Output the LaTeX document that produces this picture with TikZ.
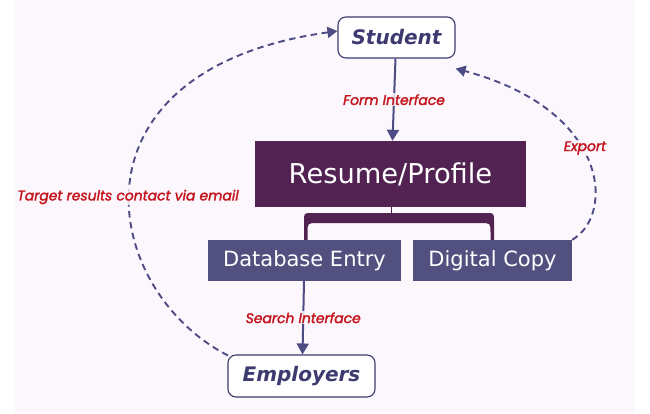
\documentclass[tikz,border=0pt]{standalone}
\usepackage{fontspec}
\setmainfont{DejaVu Sans}
\newfontfamily\lblfont{Poppins}[ItalicFeatures={FakeBold=2}]
\usetikzlibrary{arrows.meta}
\definecolor{pagebg}{HTML}{FCF7FC}
\definecolor{plum}{HTML}{522252}
\definecolor{slate}{HTML}{52507F}
\definecolor{ink}{HTML}{3C3A6E}
\definecolor{edge}{HTML}{4E4C85}
\definecolor{lblred}{HTML}{C4141C}
\tikzset{
  endpoint/.style={draw=ink, line width=1.1pt, fill=white, rounded corners=8pt,
    inner sep=0pt, text=ink, font=\fontsize{20}{23}\selectfont\bfseries\itshape},
  mainbox/.style={fill=plum, inner sep=0pt, text=white,
    font=\fontsize{27.3}{31}\selectfont},
  subbox/.style={fill=slate, inner sep=0pt, text=white,
    font=\fontsize{21}{25}\selectfont},
  flow/.style={draw=edge, line width=2pt, -{Triangle[length=11pt,width=12pt]}},
  loopback/.style={draw=edge, line width=1.9pt, dash pattern=on 6.5pt off 4.5pt,
    -{Triangle[length=10pt,width=11pt]}},
  tag/.style={text=lblred, fill=pagebg, fill opacity=0.85, text opacity=1, inner sep=1pt,
    font=\lblfont\fontsize{13.9}{16}\selectfont\itshape}
}
\begin{document}
\begin{tikzpicture}[x=1pt,y=-1pt]
\useasboundingbox (0,0) rectangle (650,413);
\fill[white] (0,0) rectangle (650,413);
\fill[pagebg] (15,0) rectangle (635,413);

% bracket joining the profile to its two outputs
\fill[plum] (304,250) -- (304,221) .. controls (304,213) .. (312,213)
  -- (486,213) .. controls (494,213) .. (494,221) -- (494,250)
  -- (490.5,250) -- (490.5,233) .. controls (490.5,223) .. (480.5,223)
  -- (317.5,223) .. controls (307.5,223) .. (307.5,233) -- (307.5,250) -- cycle;
\draw[plum, line width=1pt] (391,206) -- (391,215);

\node[endpoint, minimum width=117pt, minimum height=41pt] (student) at (396.5,37.5) {Student};
\node[mainbox, minimum width=271pt, minimum height=66pt] (profile) at (390.5,174) {\raisebox{-2pt}{Resume/Profile}};
\node[subbox, minimum width=193pt, minimum height=41pt] (db) at (304.5,260.5) {\raisebox{-1pt}{Database Entry}};
\node[subbox, minimum width=159pt, minimum height=41pt] (copy) at (492.5,260.5) {\raisebox{-1pt}{Digital Copy}};
\node[endpoint, minimum width=147pt, minimum height=42pt] (employers) at (301.5,376) {Employers};

% solid flows
\draw[flow] ([xshift=-1pt]student.south) -- node[tag, pos=0.5] (formlbl) {Form Interface} ([xshift=2pt]profile.north);
\draw[flow] ([xshift=-0.5pt]db.south) -- node[tag, pos=0.5] (searchlbl) {Search Interface} ([xshift=1pt]employers.north);

% dashed return paths
\draw[loopback] ([xshift=0.5pt,yshift=-1pt]employers.north west) .. controls (100,290) and (60,70) .. ([yshift=6.5pt]student.west);
\draw[loopback] (copy.north east) .. controls (615,215) and (610,110) .. ([yshift=-10pt]student.south east);

\node[tag] (emaillbl) at (128,197) {Target results contact via email};
\node[tag] (exportlbl) at (585,148) {Export};
\end{tikzpicture}
\end{document}
